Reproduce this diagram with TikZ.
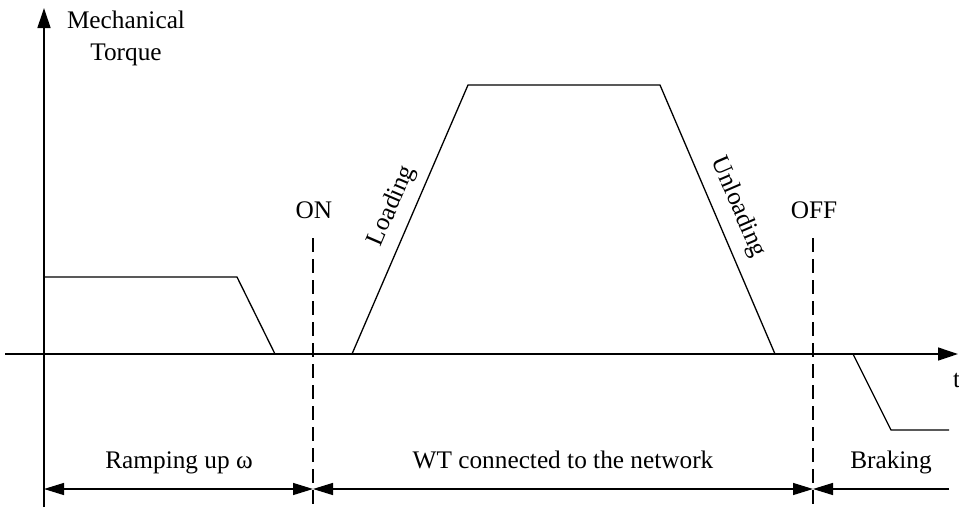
\documentclass[tikz,border=0pt]{standalone}
\usepackage{fontspec}
\setmainfont{Liberation Serif}
\usetikzlibrary{arrows.meta}
\begin{document}
\begin{tikzpicture}[x=1pt,y=-1pt,
  every node/.style={inner sep=0pt, font=\fontsize{25.3}{30}\selectfont},
  curve/.style={line width=1.3pt, line join=miter},
  axisline/.style={line width=1.3pt, -{Triangle[length=20pt,width=13pt]}},
  marker/.style={line width=1.3pt, dash pattern=on 14pt off 7pt},
  twoway/.style={line width=1.3pt, {Triangle[length=20pt,width=12pt]}-{Triangle[length=20pt,width=12pt]}},
  oneway/.style={line width=1.3pt, -{Triangle[length=20pt,width=12pt]}}]
  \path[use as bounding box] (0,0) rectangle (959,507);

  % axes
  \coordinate (ybot) at (44,507);
  \coordinate (ytop) at (44,8);
  \coordinate (xl) at (5,354);
  \coordinate (xr) at (958,354);
  \draw[axisline] (ybot) -- (ytop);
  \draw[axisline] (xl) -- (xr);
  \node[anchor=base] (mech) at (126,28) {Mechanical};
  \node[anchor=base] (torq) at (126,60) {Torque};
  \node[anchor=base west] (tlab) at (953,387) {t};

  % torque profile
  \coordinate (a1) at (44,277);
  \coordinate (a2) at (237,277);
  \coordinate (a3) at (275,354);
  \draw[curve] (a1) -- (a2) -- (a3);

  \coordinate (b1) at (352,354);
  \coordinate (b2) at (468,85);
  \coordinate (b3) at (660,85);
  \coordinate (b4) at (775,354);
  \draw[curve] (b1) -- (b2) -- (b3) -- (b4);
  \node[rotate=66.7] (load) at (392,206) {Loading};
  \node[rotate=-66.7] (unload) at (738,207) {Unloading};

  \coordinate (c1) at (853,354);
  \coordinate (c2) at (891,430);
  \coordinate (c3) at (949,430);
  \draw[curve] (c1) -- (c2) -- (c3);

  % switching instants
  \coordinate (on1) at (313,238);
  \coordinate (on2) at (313,507);
  \coordinate (off1) at (813,238);
  \coordinate (off2) at (813,507);
  \draw[marker] (on1) -- (on2);
  \draw[marker] (off1) -- (off2);
  \node[anchor=base] (onlab) at (314,218) {ON};
  \node[anchor=base] (offlab) at (814,218) {OFF};

  % operating intervals
  \coordinate (s0) at (44,489);
  \coordinate (s1) at (313,489);
  \coordinate (s2) at (813,489);
  \coordinate (s3) at (949,489);
  \draw[twoway] (s0) -- (s1);
  \draw[twoway] (s1) -- (s2);
  \draw[oneway] (s3) -- (s2);
  \node[anchor=base] (ramp) at (179,468) {Ramping up ω};
  \node[anchor=base] (wt) at (563,468) {WT connected to the network};
  \node[anchor=base] (brake) at (891,468) {Braking};
\end{tikzpicture}
\end{document}
